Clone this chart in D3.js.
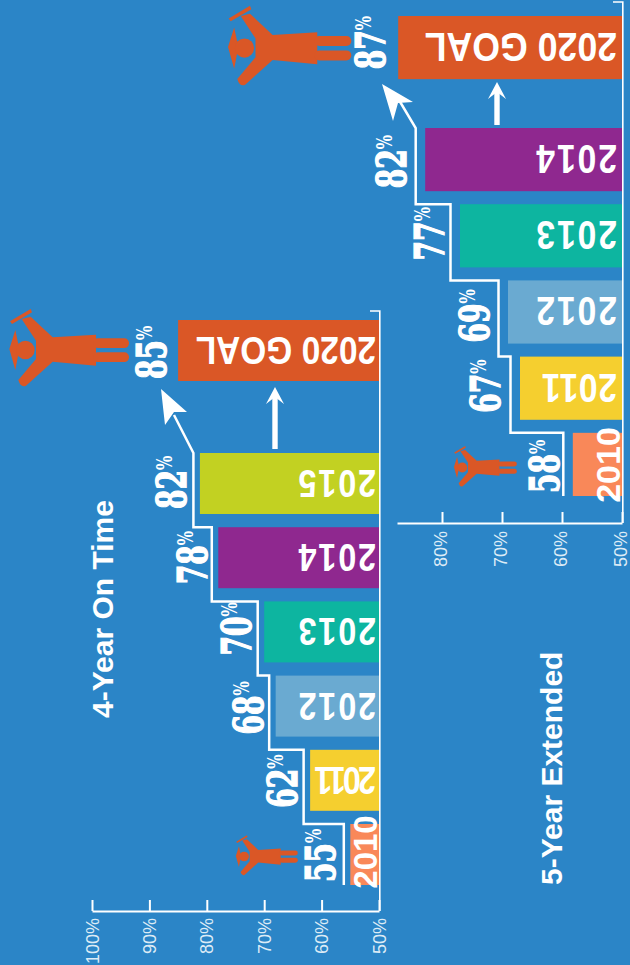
<!DOCTYPE html>
<html><head><meta charset="utf-8">
<script src="https://cdn.jsdelivr.net/npm/d3@7"></script>
<style>html,body{margin:0;padding:0;background:#2b85c7;overflow:hidden}svg{display:block}</style>
</head><body><svg id="c" width="630" height="965"></svg>
<script>
// ---- data ----
const years = ["2010","2011","2012","2013","2014","2015"];
const fourYearValues = [55,62,68,70,78,81.2];
const fourYearLabels = [55,62,68,70,78,82];
const fourYearGoal = 85;
const fiveYears = ["2010","2011","2012","2013","2014"];
const fiveYearValues = [58.2,67,69,77,82.8];
const fiveYearLabels = [58,67,69,77,82];
const fiveYearGoal = 87.3;
const fiveYearGoalLabel = 87;
const goalText = "2020 GOAL";
const titles = ["4-Year On Time","5-Year Extended"];
const fourYearTicks = [50,60,70,80,90,100];
const fiveYearTicks = [50,60,70,80];
const yearColors = ["#f98859","#f5cf2f","#6aaad1","#0db5a0","#8f288f","#c2d122"];
const goalColor = "#da5726";

// ---- layout ----
const WHITE="#fff";
const svg=d3.select("#c");
svg.append("rect").attr("width",630).attr("height",965).attr("fill","#2b85c7");

const personPath="M65 85L92 78L158 140L288 132L288 225L158 213L78 285Q62 292 55 268L108 205L108 150Z M30 92L92 55L96 65L36 100Z M28 175L46 118L58 175L46 238Z";
function person(g,tx,ty,s){
  const p=g.append("g").attr("transform",`translate(${tx},${ty}) scale(${s/3}) translate(0,-175)`).attr("fill",goalColor);
  p.append("path").attr("d",personPath);
  p.append("circle").attr("cx",76).attr("cy",178).attr("r",28);
  p.append("rect").attr("x",280).attr("y",143).attr("width",107).attr("height",29).attr("rx",14);
  p.append("rect").attr("x",280).attr("y",185).attr("width",107).attr("height",29).attr("rx",14);
}
function panel(o){
  const g=svg.append("g");
  const x=d3.scaleLinear().domain(o.domain).range(o.xRange);
  const y=d3.scaleBand().domain(o.years).range(o.yRange).paddingInner(o.pad);
  const x0=x(50), bw=y.bandwidth();

  // bars
  g.selectAll("rect.bar").data(o.years).join("rect").attr("class","bar")
    .attr("x",(d,i)=>x(o.values[i])).attr("y",d=>y(d))
    .attr("width",(d,i)=>x0-x(o.values[i])).attr("height",bw)
    .attr("fill",d=>yearColors[years.indexOf(d)]);
  g.append("rect").attr("x",x(o.goal)).attr("y",o.goalTop)
    .attr("width",x0-x(o.goal)).attr("height",bw).attr("fill",goalColor);

  // baseline with bracket
  g.append("path").attr("fill","none").attr("stroke",WHITE).attr("stroke-width",1.6)
    .attr("d",`M${x0-o.bracket} ${o.topY}H${x0+0.8}V${o.axisY}`);

  // axis
  const axis=d3.axisTop(x).tickValues(o.ticks).tickSize(11).tickSizeOuter(0).tickFormat(d=>d+"%");
  const ag=g.append("g").attr("transform",`translate(0,${o.axisY})`).call(axis);
  ag.selectAll("path,line").attr("stroke",WHITE).attr("stroke-width",2);
  ag.selectAll("text")
    .attr("font-family","Liberation Sans").attr("font-size",18).attr("fill","#dcebf6")
    .attr("text-anchor","end").attr("dy",null).attr("y",null)
    .attr("transform",`translate(0,${o.labelTop-o.axisY}) rotate(-90) translate(0,${o.tickShift})`);

  // step line
  const pts=[];
  o.years.forEach((d,i)=>{
    const sx=x(o.values[i])-o.stepGap;
    pts.push([sx,y(d)+(i===0?bw:0)]);
    if(i===0) pts.push([sx,y(d)]);
    if(i<o.years.length-1) pts.push([x(o.values[i+1])-o.stepGap,y(d)]);
  });
  pts.push(o.arrowNotch);
  g.append("path").attr("fill","none").attr("stroke",WHITE).attr("stroke-width",2.5)
    .attr("d",d3.line()(pts));
  g.append("polygon").attr("fill",WHITE).attr("points",o.arrowHead.join(" "));
  // up arrow
  g.append("path").attr("stroke",WHITE).attr("stroke-width",5.4)
    .attr("d",`M${o.up.x} ${o.up.from}V${o.up.to}`);
  g.append("polygon").attr("fill",WHITE).attr("points",
    [[o.up.x,o.up.tip],[o.up.x+9,o.up.wing],[o.up.x,o.up.notch],[o.up.x-9,o.up.wing]].join(" "));

  // year labels
  o.years.forEach((d,i)=>{
    if(d==="2010"){
      g.append("text").text(d).attr("transform",`translate(${o.yr0.x},${o.yr0.y}) rotate(-90)`)
        .attr("text-anchor","middle").attr("font-family","Liberation Sans").attr("font-weight","bold")
        .attr("font-size",o.yr0.size).attr("fill",WHITE);
    } else {
      g.append("text").text(d).attr("transform",`translate(${o.yrX},${y(d)+bw/2-o.yrSize*0.355}) rotate(180) scale(${o.yrScale},1)`)
        .attr("font-family","Liberation Sans").attr("font-weight","bold")
        .attr("letter-spacing",d==="2011"?o.yr11Spacing:o.yrSpacing)
        .attr("font-size",o.yrSize).attr("fill",WHITE);
    }
  });
  g.append("text").text(goalText)
    .attr("transform",`translate(${o.yrX},${o.goalTop+bw/2-o.yrSize*0.355}) rotate(180) scale(${o.goalScale},1)`)
    .attr("font-family","Liberation Sans").attr("font-weight","bold")
    .attr("font-size",o.yrSize).attr("fill",WHITE);

  // percentage labels
  function pct(val,px,py){
    const t=g.append("text").attr("transform",`translate(${px},${py}) rotate(-90) scale(.76,1)`)
      .attr("font-family","DejaVu Serif Condensed, DejaVu Serif").attr("font-stretch","condensed")
      .attr("font-weight","bold").attr("fill",WHITE).attr("font-size",41);
    t.append("tspan").text(val).attr("stroke",WHITE).attr("stroke-width",1.3);
    t.append("tspan").text("%").attr("font-size",22).attr("dy",-14).attr("font-weight","bold");
  }
  o.years.forEach((d,i)=>{
    pct(o.labels[i],x(o.values[i])+o.pctDx[i],y(d)+bw+o.pctDy[i]);
  });
  pct(o.goalLabel,x(o.goal)+o.pctDx[o.years.length],o.goalTop+bw+o.pctDy[o.years.length]);

  // people
  person(g,...o.bigPerson);
  person(g,...o.smallPerson);
}

panel({
  domain:[50,100],xRange:[379,92],years:years,values:fourYearValues,labels:fourYearLabels,
  yRange:[885,453],pad:0.178,goal:fourYearGoal,goalLabel:fourYearGoal,goalTop:320,
  axisY:911,topY:311,bracket:9,ticks:fourYearTicks,labelTop:918,tickShift:6,stepGap:6.5,
  arrowNotch:[174,415],arrowHead:[[161,389],[187,412],[174,412],[165,425]],
  up:{x:275,from:449,to:396,tip:387,wing:404,notch:397},
  yrX:376,yrSize:38,yrScale:.85,yrSpacing:2.2,yr11Spacing:-3.3,goalScale:.88,yr0:{x:377,y:852,size:33},
  pctDx:[-15,-13,-13,-13,-11,-14,-12],pctDy:[-3,-3,-2,-7,-4,-5,-2],
  bigPerson:[0,349,1],smallPerson:[231,856,.518]
});
panel({
  domain:[50,87.5],xRange:[622,397],years:fiveYears,values:fiveYearValues,labels:fiveYearLabels,
  yRange:[496,128],pad:0.171,goal:fiveYearGoal,goalLabel:fiveYearGoalLabel,goalTop:16,
  axisY:523,topY:2,bracket:9,ticks:fiveYearTicks,labelTop:531,tickShift:4,stepGap:9.5,
  arrowNotch:[396,95],arrowHead:[[382,84],[413,102],[398,103],[393,121]],
  up:{x:497,from:125,to:91,tip:82,wing:99,notch:92},
  yrX:617,yrSize:41,yrScale:.82,yrSpacing:2.4,yr11Spacing:0.9,goalScale:.87,yr0:{x:620,y:465,size:34},
  pctDx:[-14,-20,-19,-16,-19,-13],pctDy:[-3,-7,-1,-7,-3,-10],
  bigPerson:[218.4,47,1.03],smallPerson:[449,467,.526]
});

// titles
[[113,718,titles[0]],[562,885,titles[1]]].forEach(([tx,ty,s])=>{
  svg.append("text").text(s).attr("transform",`translate(${tx},${ty}) rotate(-90)`)
    .attr("font-family","Liberation Sans").attr("font-weight","bold").attr("font-size",30).attr("fill",WHITE);
});
</script></body></html>
